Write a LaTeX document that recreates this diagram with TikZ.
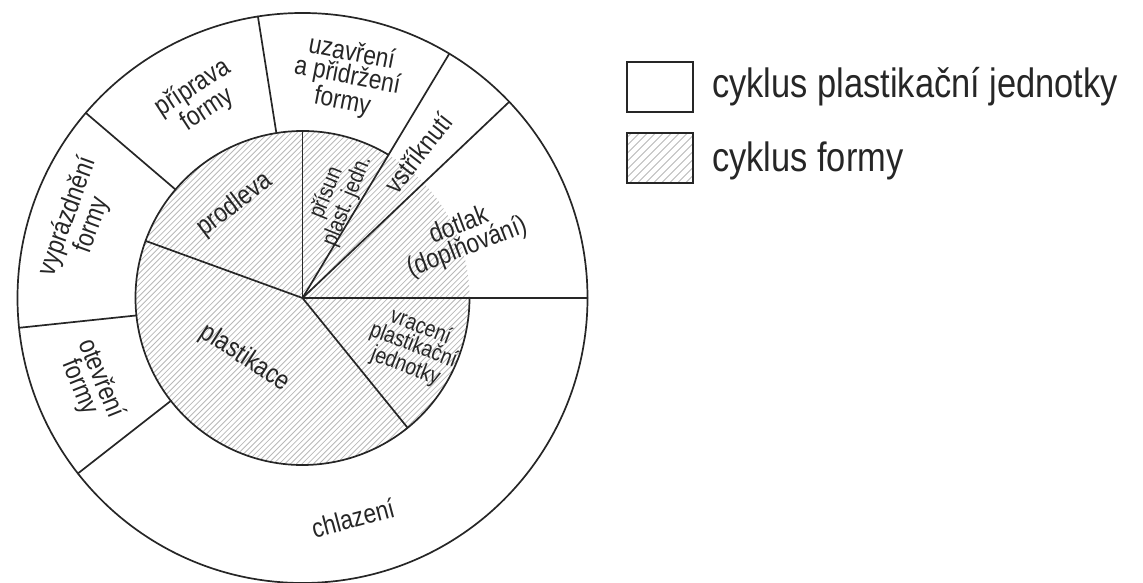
\documentclass[tikz,border=0pt]{standalone}
\usepackage{fontspec}
\newfontfamily\labfont[FakeStretch=0.84]{Liberation Sans}
\usetikzlibrary{calc}
\begin{document}
\begin{tikzpicture}[x=1pt,y=1pt,
  edge/.style={line width=1.7pt, line cap=round, black!85},
  hatchline/.style={line width=0.8pt, black!28},
  lbl/.style={font=\labfont\fontsize{27}{23}\selectfont, align=center, inner sep=0pt, text=black!85},
  sml/.style={font=\labfont\fontsize{23}{20}\selectfont, align=center, inner sep=0pt, text=black!85},
  leg/.style={font=\labfont\fontsize{41}{45}\selectfont, anchor=west, inner sep=0pt, text=black!85},
  legbox/.style={draw=black!85, line width=2pt, minimum width=66pt, minimum height=50pt, inner sep=0pt}]
\useasboundingbox (0,0) rectangle (1143,583);
\coordinate (C) at (302.5,285);
\def\ri{167}
\def\ro{285}
% hatching of the inner disc
\begin{scope}
  \clip (C) circle[radius=\ri];
  \foreach \d in {-245,-239.3,...,245}
    \draw[hatchline] ($(C)+(\d-200,-200)$) -- ++(400,400);
\end{scope}
% circles
\draw[edge] (C) circle[radius=\ro];
\draw[edge] ($(C)+(59:\ri)$) arc[start angle=59, end angle=360, radius=\ri];
% dividers
\foreach \a in {90,160,-51}
  \draw[edge] (C) -- ($(C)+(\a:\ri)$);
\foreach \a in {59,43.5,0}
  \draw[edge] (C) -- ($(C)+(\a:\ro)$);
\foreach \a in {99,139.5,186,218}
  \draw[edge] ($(C)+(\a:\ri)$) -- ($(C)+(\a:\ro)$);
% outer labels
\node[lbl, rotate=33] (pri) at (200,484) {příprava\\formy};
\node[lbl, rotate=-11] (uza) at (347,505) {uzavření\\a přidržení\\formy};
\node[lbl, rotate=52] (vst) at (418,430) {vstříknutí};
\node[lbl, rotate=21] (dot) at (463,346) {dotlak\\(doplňování)};
\node[lbl, rotate=15] (chl) at (353,65) {chlazení};
\node[lbl, rotate=-68] (ote) at (90,200) {otevření\\formy};
\node[lbl, rotate=70] (vyp) at (80,362) {vyprázdnění\\formy};
% inner labels
\node[lbl, rotate=37] (pro) at (235,378) {prodleva};
\node[lbl, rotate=-33] (pla) at (245,225) {plastikace};
\node[sml, rotate=68] (prs) at (337,386) {přísun\\plast. jedn.};
\node[sml, rotate=-21] (vra) at (413,236) {vracení\\plastikační\\jednotky};
% legend
\node[legbox] (lb1) at (660,496) {};
\node[legbox, path picture={
    \foreach \d in {-110,-102,...,110}
      \draw[hatchline] ($(path picture bounding box.center)+(\d-40,-40)$) -- ++(80,80);
  }] (lb2) at (660,424.5) {};
\node[leg] (lt1) at (712,496) {cyklus plastikační jednotky};
\node[leg] (lt2) at (712,422) {cyklus formy};
\end{tikzpicture}
\end{document}
